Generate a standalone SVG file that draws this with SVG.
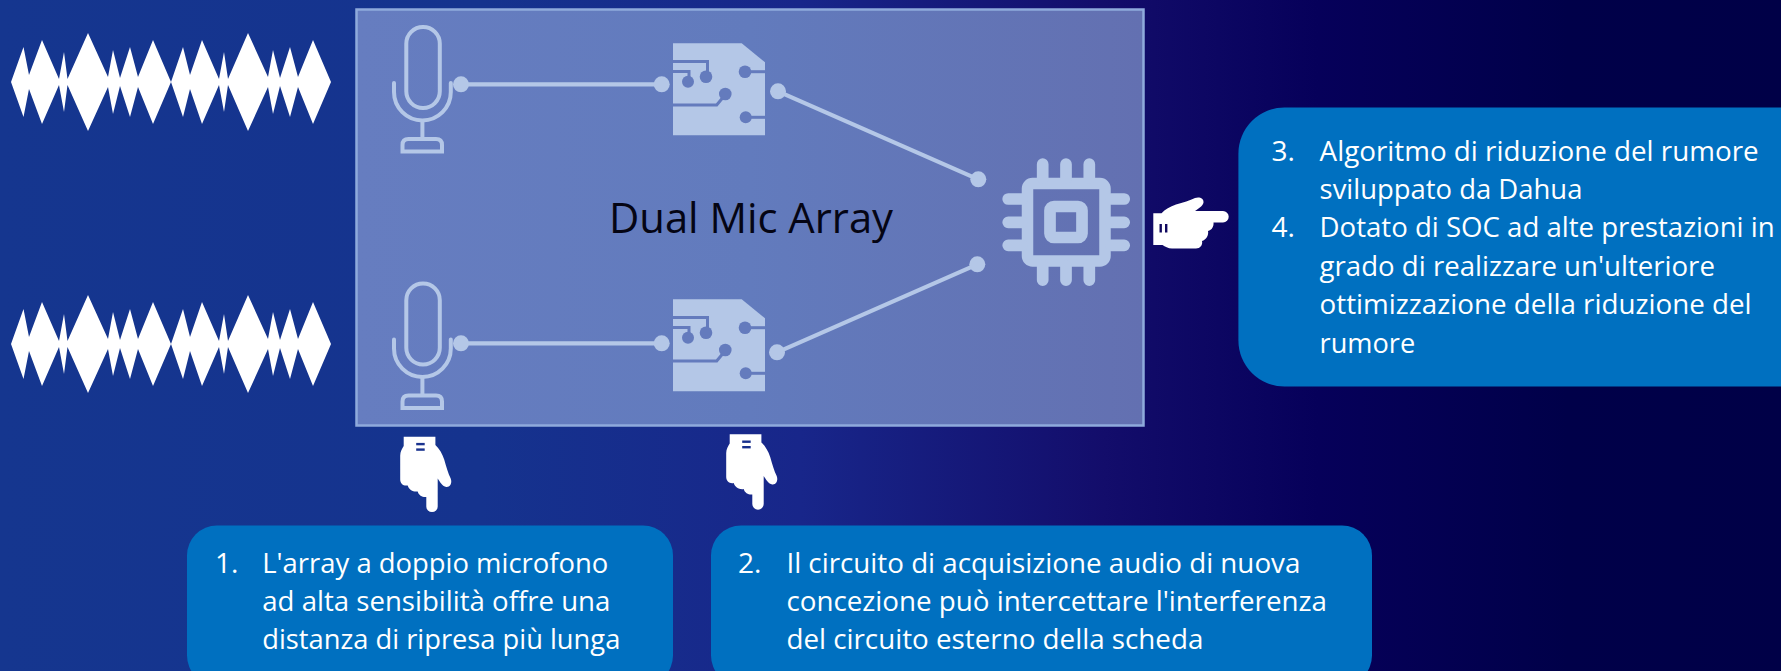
<svg xmlns="http://www.w3.org/2000/svg" width="1781" height="671" viewBox="0 0 1781 671">
<style>
.t{font-family:"Open Sans","Liberation Sans",sans-serif;font-size:28px;fill:#fff;font-variant-ligatures:none}
.ic{fill:none;stroke:#b4c7e7;stroke-width:4}
.sf{fill:#b4c7e7}
.bx{fill:#0070c0}
.tr{fill:none;stroke:#647bbd;stroke-width:3}
.td{fill:#647bbd}
.cn{stroke:#b4c7e7;stroke-width:4.2;fill:none}
.pin{stroke:#b4c7e7;stroke-width:11.7;stroke-linecap:round;fill:none}
</style>
<defs>
<linearGradient id="bg" x1="0" y1="0" x2="1" y2="0">
<stop offset="0" stop-color="#15368f"/>
<stop offset="0.27" stop-color="#15338e"/>
<stop offset="0.45" stop-color="#18268a"/>
<stop offset="0.62" stop-color="#130d6b"/>
<stop offset="0.74" stop-color="#06005a"/>
<stop offset="0.88" stop-color="#000049"/>
<stop offset="1" stop-color="#000047"/>
</linearGradient>
<linearGradient id="pn" x1="0" y1="0" x2="1" y2="0">
<stop offset="0" stop-color="#667dc0"/>
<stop offset="0.5" stop-color="#627bbd"/>
<stop offset="1" stop-color="#6370b1"/>
</linearGradient>
<polygon id="wave" points="11,82 23.5,47 29,75 42,40 59,79 64,52 67.5,79 88,33 108,77 113,50 120,78 130,47 138,77 153,40 171,82 183,47 190,75 202,40 219,79 224,52 228,79 248,33 268,77 273,50 280,78 290,47 298,77 313,40 331,82 313,124 298,87 290,117 280,86 273,114 268,87 248,131 228,85 224,112 219,85 202,124 190,89 183,117 171,82 153,124 138,87 130,117 120,86 113,114 108,87 88,131 67.5,85 64,112 59,85 42,124 29,89 23.5,117"/>
<g id="hand">
<path fill="#fff" d="M1153.3 213.3 H1161.5 C1165 209.5 1170 206.5 1176 204.5 C1183 202.5 1190 200.5 1195 198 C1199 196.5 1204 198 1203.5 202.5 C1203 206 1198 209 1195 211 H1223 A5.7 5.7 0 0 1 1223 222.4 H1213.5 C1214 226 1212 230 1208 231 C1209 235 1206 240 1202 241 C1203 245 1200 248.5 1196 248.5 H1172 C1168 248.5 1165 246.5 1162.5 245 H1153.3 Z"/>
<rect x="1159.5" y="224" width="2.4" height="8.5" fill="currentColor"/>
<rect x="1165" y="224" width="2.4" height="8.5" fill="currentColor"/>
</g>
<g id="mic">
<rect class="ic" x="406.3" y="27" width="33.5" height="81" rx="16.7"/>
<path class="ic" d="M394 83 L394 92 A28.4 28.4 0 0 0 450.8 92 L450.8 83" stroke-linecap="round"/>
<path class="ic" d="M422.4 120 V138"/>
<path class="ic" d="M402.5 151.5 V145 Q402.5 139 408.5 139 H436 Q442 139 442 145 V151.5 Z"/>
</g>
<g id="adc">
<path class="sf" d="M673 43.3 H741.7 L765 62.3 V135.3 H673 Z"/>
<path class="tr" d="M673 61.5 H707.5 V76"/>
<path class="tr" d="M673 71.5 H689 V81"/>
<path class="tr" d="M673 105 H716.7 L725 95"/>
<path class="tr" d="M745 71.7 H765"/>
<path class="tr" d="M745.7 117.3 H765"/>
<circle class="td" cx="706" cy="76.7" r="6.3"/>
<circle class="td" cx="688" cy="81.7" r="6"/>
<circle class="td" cx="725.3" cy="94" r="6.3"/>
<circle class="td" cx="745" cy="71.7" r="6.3"/>
<circle class="td" cx="745.7" cy="117.3" r="6"/>
</g>
</defs>
<rect width="1781" height="671" fill="url(#bg)"/>
<g id="wave-top"><use href="#wave" fill="#fff"/></g>
<g id="wave-bottom"><use href="#wave" fill="#fff" y="262"/></g>
<g id="panel">
<rect x="356.5" y="9.5" width="787" height="416" fill="url(#pn)" stroke="#8faadc" stroke-width="2.5"/>
<text x="609" y="233" font-family="'Open Sans','Liberation Sans',sans-serif" font-size="42.5" fill="#050514" textLength="284" lengthAdjust="spacingAndGlyphs">Dual Mic Array</text>
</g>
<g id="mic-1"><use href="#mic"/></g>
<g id="mic-2"><use href="#mic" y="256.5"/></g>
<g id="adc-1"><use href="#adc"/></g>
<g id="adc-2"><use href="#adc" y="256"/></g>
<g id="soc">
<rect class="ic" style="stroke-width:11.5" x="1027.5" y="183.5" width="77.5" height="77.5" rx="5"/>
<rect class="ic" style="stroke-width:11.7" x="1050" y="206.5" width="32" height="31" rx="4"/>
<path class="pin" d="M1042.7 164.2V178M1066 164.2V178M1089.3 164.2V178M1042.7 266V280.2M1066 266V280.2M1089.3 266V280.2M1008.2 199H1022M1008.2 222.3H1022M1008.2 245.3H1022M1111 199H1124.2M1111 222.3H1124.2M1111 245.3H1124.2"/>
</g>
<g id="connectors">
<path class="cn" d="M461 84.3H662M461 343.3H662M778 91.3L978.3 179.3M777 352.3L977.3 264.3"/>
<g class="sf">
<circle cx="461" cy="84.3" r="8"/><circle cx="661.7" cy="84.3" r="8"/><circle cx="778" cy="91.3" r="8"/><circle cx="978.3" cy="179.3" r="8"/>
<circle cx="461" cy="343.3" r="8"/><circle cx="661.7" cy="343.3" r="8"/><circle cx="777" cy="352.3" r="8"/><circle cx="977.3" cy="264.3" r="8"/>
</g>
</g>
<g id="hand-right" color="#10085f"><use href="#hand"/></g>
<g id="hand-mic" color="#1a338f"><use href="#hand" transform="translate(648.7,-716.6) rotate(90)"/></g>
<g id="hand-adc" color="#18308d"><use href="#hand" transform="translate(974.7,-719) rotate(90)"/></g>
<g id="note-1">
<rect class="bx" x="187" y="525.5" width="486" height="160" rx="30"/>
<text class="t" x="215" y="572.7">1.</text>
<text class="t" x="262.3" y="572.7" textLength="346" lengthAdjust="spacingAndGlyphs">L'array a doppio microfono</text>
<text class="t" x="262.3" y="611" textLength="348" lengthAdjust="spacingAndGlyphs">ad alta sensibilità offre una</text>
<text class="t" x="262.3" y="649.3" textLength="358" lengthAdjust="spacingAndGlyphs">distanza di ripresa più lunga</text>
</g>
<g id="note-2">
<rect class="bx" x="711" y="525.5" width="661" height="160" rx="30"/>
<text class="t" x="738" y="572.7">2.</text>
<text class="t" x="786.4" y="572.7" textLength="514" lengthAdjust="spacingAndGlyphs">Il circuito di acquisizione audio di nuova</text>
<text class="t" x="786.4" y="611" textLength="540.6" lengthAdjust="spacingAndGlyphs">concezione può intercettare l'interferenza</text>
<text class="t" x="786.4" y="649.3" textLength="417" lengthAdjust="spacingAndGlyphs">del circuito esterno della scheda</text>
</g>
<g id="note-3">
<rect class="bx" x="1238.4" y="107.5" width="600" height="279" rx="46"/>
<text class="t" x="1271.5" y="160.7">3.</text>
<text class="t" x="1319.6" y="160.7" textLength="439" lengthAdjust="spacingAndGlyphs">Algoritmo di riduzione del rumore</text>
<text class="t" x="1319.6" y="199" textLength="262.8" lengthAdjust="spacingAndGlyphs">sviluppato da Dahua</text>
<text class="t" x="1271.5" y="237.3">4.</text>
<text class="t" x="1319.6" y="237.3" textLength="455" lengthAdjust="spacingAndGlyphs">Dotato di SOC ad alte prestazioni in</text>
<text class="t" x="1319.6" y="275.7" textLength="395.3" lengthAdjust="spacingAndGlyphs">grado di realizzare un'ulteriore</text>
<text class="t" x="1319.6" y="314.3" textLength="432" lengthAdjust="spacingAndGlyphs">ottimizzazione della riduzione del</text>
<text class="t" x="1319.6" y="353" textLength="95.6" lengthAdjust="spacingAndGlyphs">rumore</text>
</g>
</svg>
